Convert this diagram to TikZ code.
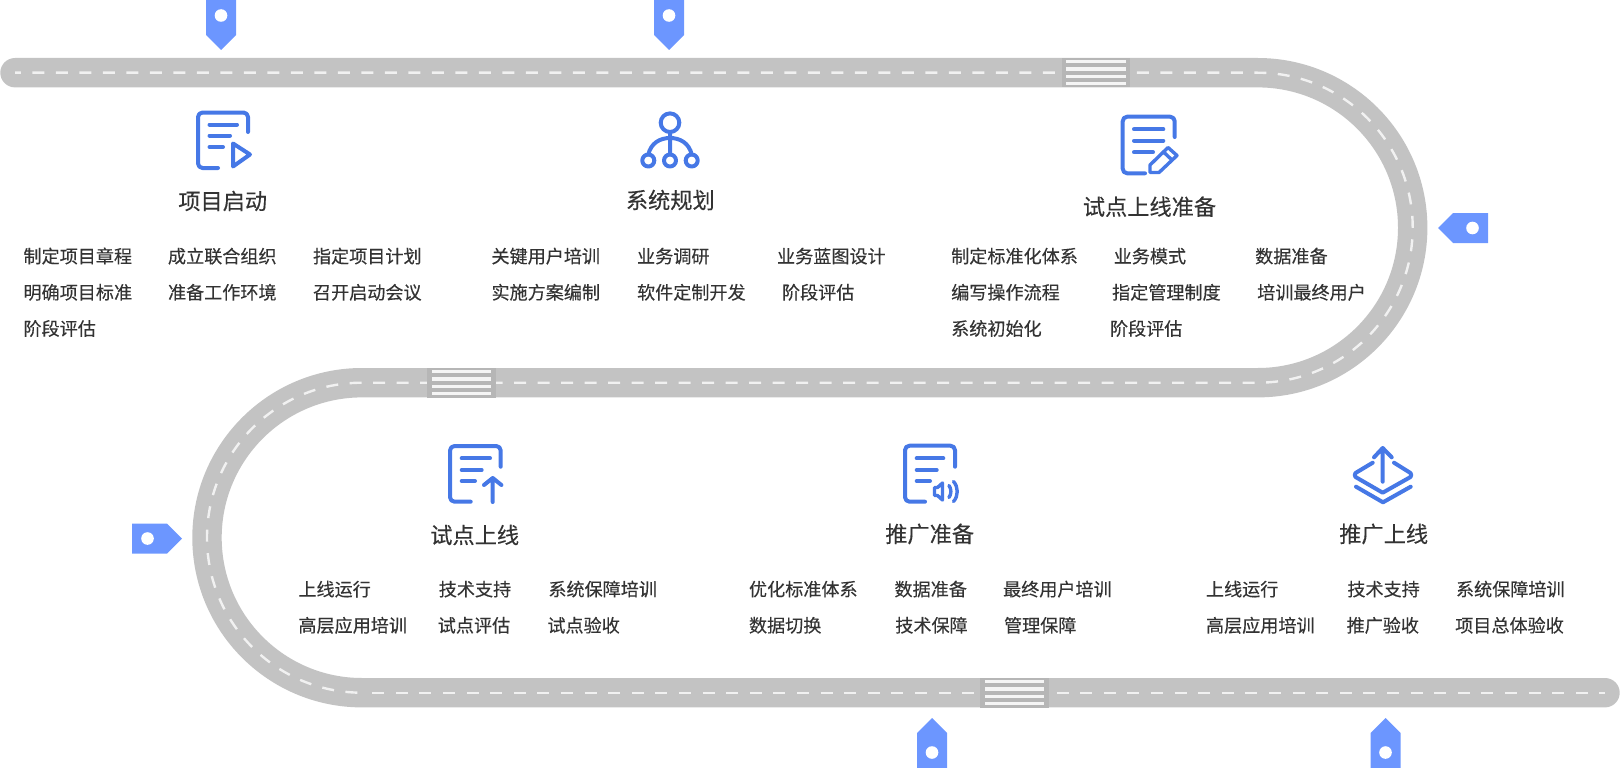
\documentclass[tikz,border=0pt]{standalone}
\usepackage{fontspec}
\setmainfont{Noto Sans CJK SC}[FakeBold=0.25]
\usetikzlibrary{positioning,calc}
\definecolor{roadgray}{HTML}{C3C3C3}
\definecolor{walkgray}{HTML}{B6B6B6}
\definecolor{lanewhite}{HTML}{F1F1F1}
\definecolor{pinblue}{HTML}{6C96FF}
\definecolor{iconblue}{HTML}{4678E6}
\definecolor{textgray}{HTML}{333333}
\tikzstyle{road} = [draw=roadgray, line width=29.4pt, line cap=round]
\tikzstyle{lane} = [draw=lanewhite, line width=2.4pt]
\tikzstyle{icon} = [draw=iconblue, line width=4pt, line cap=round, line join=round]
\tikzstyle{title} = [inner sep=0pt, font=\fontsize{22.2}{22.2}\selectfont, text=textgray]
\tikzstyle{item} = [inner sep=0pt, anchor=west, text height=14pt, text depth=4pt, font=\fontsize{18.1}{18.1}\selectfont, text=textgray]
\tikzset{
  roadpin/.pic={
    \fill [pinblue] (-15,-50) -- (15,-50) -- (15,-15) -- (0,0) -- (-15,-15) -- cycle;
    \fill [white] (0,-34.5) circle (6.3pt);
  },
  crosswalk/.pic={
    \fill [walkgray] (-34.3,-14.8) rectangle (34.3,14.8);
    \foreach \barpos in {-11,-3.6,3.8,11}
      \fill [lanewhite!70!white] (-29.8,\barpos-1.7) rectangle (29.8,\barpos+1.7);
  }
}

\begin{document}
\begin{tikzpicture}[x=1pt, y=-1pt]
  \useasboundingbox (0,0) rectangle (1620,768);

  % Road
  \draw [road] (15,72.7) -- (1257.7,72.7) arc (90:-90:155pt) -- (362,382.7) arc (90:270:155pt) -- (1605,692.7);
  \draw [lane, dash pattern=on 12pt off 11.5pt, dash phase=6.2pt] (15,72.7) -- (1257.7,72.7) arc (90:-90:155pt) -- (362,382.7) arc (90:270:155pt);
  \draw [lane, dash pattern=on 12pt off 11.6pt, dash phase=13.4pt] (362,692.7) -- (1605,692.7);
  \pic at (1096,72.7) {crosswalk};
  \pic at (461.5,382.7) {crosswalk};
  \pic at (1014.5,692.7) {crosswalk};

  % Pins
  \pic at (221,50) {roadpin};
  \pic at (669,50) {roadpin};
  \pic [rotate=-90] at (1438,228) {roadpin};
  \pic [rotate=90] at (182,538.5) {roadpin};
  \pic [rotate=180] at (932,718) {roadpin};
  \pic [rotate=180] at (1385.5,718) {roadpin};

  % Icons
  \draw [icon, rounded corners=4.5pt] (248,132) |- (198,112.5) |- (218,168);
  \draw [icon] (209.5,124.5) -- (237,124.5) (209.5,135.5) -- (230,135.5) (209.5,147) -- (223,147);
  \draw [icon] (233,143.5) -- (233,166.5) -- (250,154.5) -- cycle;

  \draw [icon] (670,122.7) circle (9.3pt) (648.3,160.5) circle (6pt) (670,160.5) circle (6pt) (691.7,160.5) circle (6pt);
  \draw [icon] (670,132) -- (670,154.5) (648.3,154.5) .. controls (651,143) and (660,138) .. (670,138) .. controls (680,138) and (689,143) .. (691.7,154.5);

  \draw [icon, rounded corners=4.5pt] (1174.7,137) |- (1122.7,116.7) |- (1145,173.3);
  \draw [icon] (1134,129.3) -- (1163.3,129.3) (1134,140.7) -- (1163.3,140.7) (1134,152.3) -- (1153,152.3);
  \draw [icon, line width=3.4pt] (1150,172.5) -- (1150,165) -- (1168,147.5) -- (1177,155.5) -- (1159,172.5) -- cycle (1163.5,152) -- (1172,160);

  \draw [icon, rounded corners=4.5pt] (500.7,466.7) |- (450,446) |- (470.7,501.7);
  \draw [icon] (461.7,458.3) -- (490,458.3) (461.7,470) -- (481.7,470) (461.7,481) -- (475,481);
  \draw [icon] (492.7,502) -- (492.7,478) (484,485) -- (492.7,478) -- (501.4,485);

  \draw [icon, rounded corners=4.5pt] (955,466.7) |- (905,445.7) |- (925,501.7);
  \draw [icon] (916.7,458.3) -- (943.3,458.3) (916.7,470) -- (936.7,470) (916.7,481) -- (930,481);
  \draw [icon, line width=3.4pt] (934.5,487.5) -- (937.5,487.5) -- (942.5,483) -- (942.5,500) -- (937.5,495.5) -- (934.5,495.5) -- cycle;
  \draw [icon, line width=3.4pt] (949,485.5) .. controls (951.5,489) and (951.5,494) .. (949,497.5) (953.5,481.5) .. controls (958.5,487) and (958.5,496) .. (953.5,501.5);

  \draw [icon] (1382.7,481.7) -- (1382.7,448) (1374,457.3) -- (1382.7,448) -- (1391.7,457.3);
  \draw [icon] (1372.7,462.7) -- (1355.5,473) .. controls (1354.5,474) and (1354.5,476) .. (1355.5,477) -- (1382.7,492.7) -- (1410.5,477) .. controls (1411.5,476) and (1411.5,474) .. (1410.5,473) -- (1394,462.7);
  \draw [icon] (1356,486.7) -- (1383,502.3) -- (1410.7,486.7);

  % Titles
  \node [title] (t1) at (222.7,201) {项目启动};
  \node [title] (t2) at (670.3,200) {系统规划};
  \node [title] (t3) at (1149.5,206.7) {试点上线准备};
  \node [title] (t4) at (474.7,535) {试点上线};
  \node [title] (t5) at (929.7,534) {推广准备};
  \node [title] (t6) at (1383.7,534) {推广上线};

  % Items of the first stage
  \node [item] (a1) at (23.3,258) {制定项目章程};
  \node [item, right=35.5pt of a1] (a2) {成立联合组织};
  \node [item, right=36pt of a2] (a3) {指定项目计划};
  \node [item, below right=17.8pt and 0pt of a1.south west] (a4) {明确项目标准};
  \node [item, right=35.5pt of a4] (a5) {准备工作环境};
  \node [item, right=36pt of a5] (a6) {召开启动会议};
  \node [item, below right=17.8pt and 0pt of a4.south west] (a7) {阶段评估};

  % Items of the second stage
  \node [item] (b1) at (491.3,258) {关键用户培训};
  \node [item, right=36.6pt of b1] (b2) {业务调研};
  \node [item, right=67.2pt of b2] (b3) {业务蓝图设计};
  \node [item, below right=17.8pt and 0pt of b1.south west] (b4) {实施方案编制};
  \node [item, right=36.6pt of b4] (b5) {软件定制开发};
  \node [item, right=35.9pt of b5] (b6) {阶段评估};

  % Items of the third stage
  \node [item] (c1) at (951,258) {制定标准化体系};
  \node [item, right=35.4pt of c1] (c2) {业务模式};
  \node [item, right=68.7pt of c2] (c3) {数据准备};
  \node [item, below right=17.8pt and 0pt of c1.south west] (c4) {编写操作流程};
  \node [item, right=51.9pt of c4] (c5) {指定管理制度};
  \node [item, right=36.1pt of c5] (c6) {培训最终用户};
  \node [item, below right=17.8pt and 0pt of c4.south west] (c7) {系统初始化};
  \node [item, right=67.9pt of c7] (c8) {阶段评估};

  % Items of the fourth stage
  \node [item] (d1) at (298.2,591) {上线运行};
  \node [item, right=67.6pt of d1] (d2) {技术支持};
  \node [item, right=36.8pt of d2] (d3) {系统保障培训};
  \node [item, below right=17.8pt and 0pt of d1.south west] (d4) {高层应用培训};
  \node [item, right=30.4pt of d4] (d5) {试点评估};
  \node [item, right=36.8pt of d5] (d6) {试点验收};

  % Items of the fifth stage
  \node [item] (e1) at (748.8,591) {优化标准体系};
  \node [item, right=36.5pt of e1] (e2) {数据准备};
  \node [item, right=35.8pt of e2] (e3) {最终用户培训};
  \node [item, below right=17.8pt and 0pt of e1.south west] (e4) {数据切换};
  \node [item, right=73.5pt of e4] (e5) {技术保障};
  \node [item, right=35.9pt of e5] (e6) {管理保障};

  % Items of the sixth stage
  \node [item] (f1) at (1205.8,591) {上线运行};
  \node [item, right=68.6pt of f1] (f2) {技术支持};
  \node [item, right=35.8pt of f2] (f3) {系统保障培训};
  \node [item, below right=17.8pt and 0pt of f1.south west] (f4) {高层应用培训};
  \node [item, right=31.6pt of f4] (f5) {推广验收};
  \node [item, right=35.8pt of f5] (f6) {项目总体验收};
\end{tikzpicture}
\end{document}
